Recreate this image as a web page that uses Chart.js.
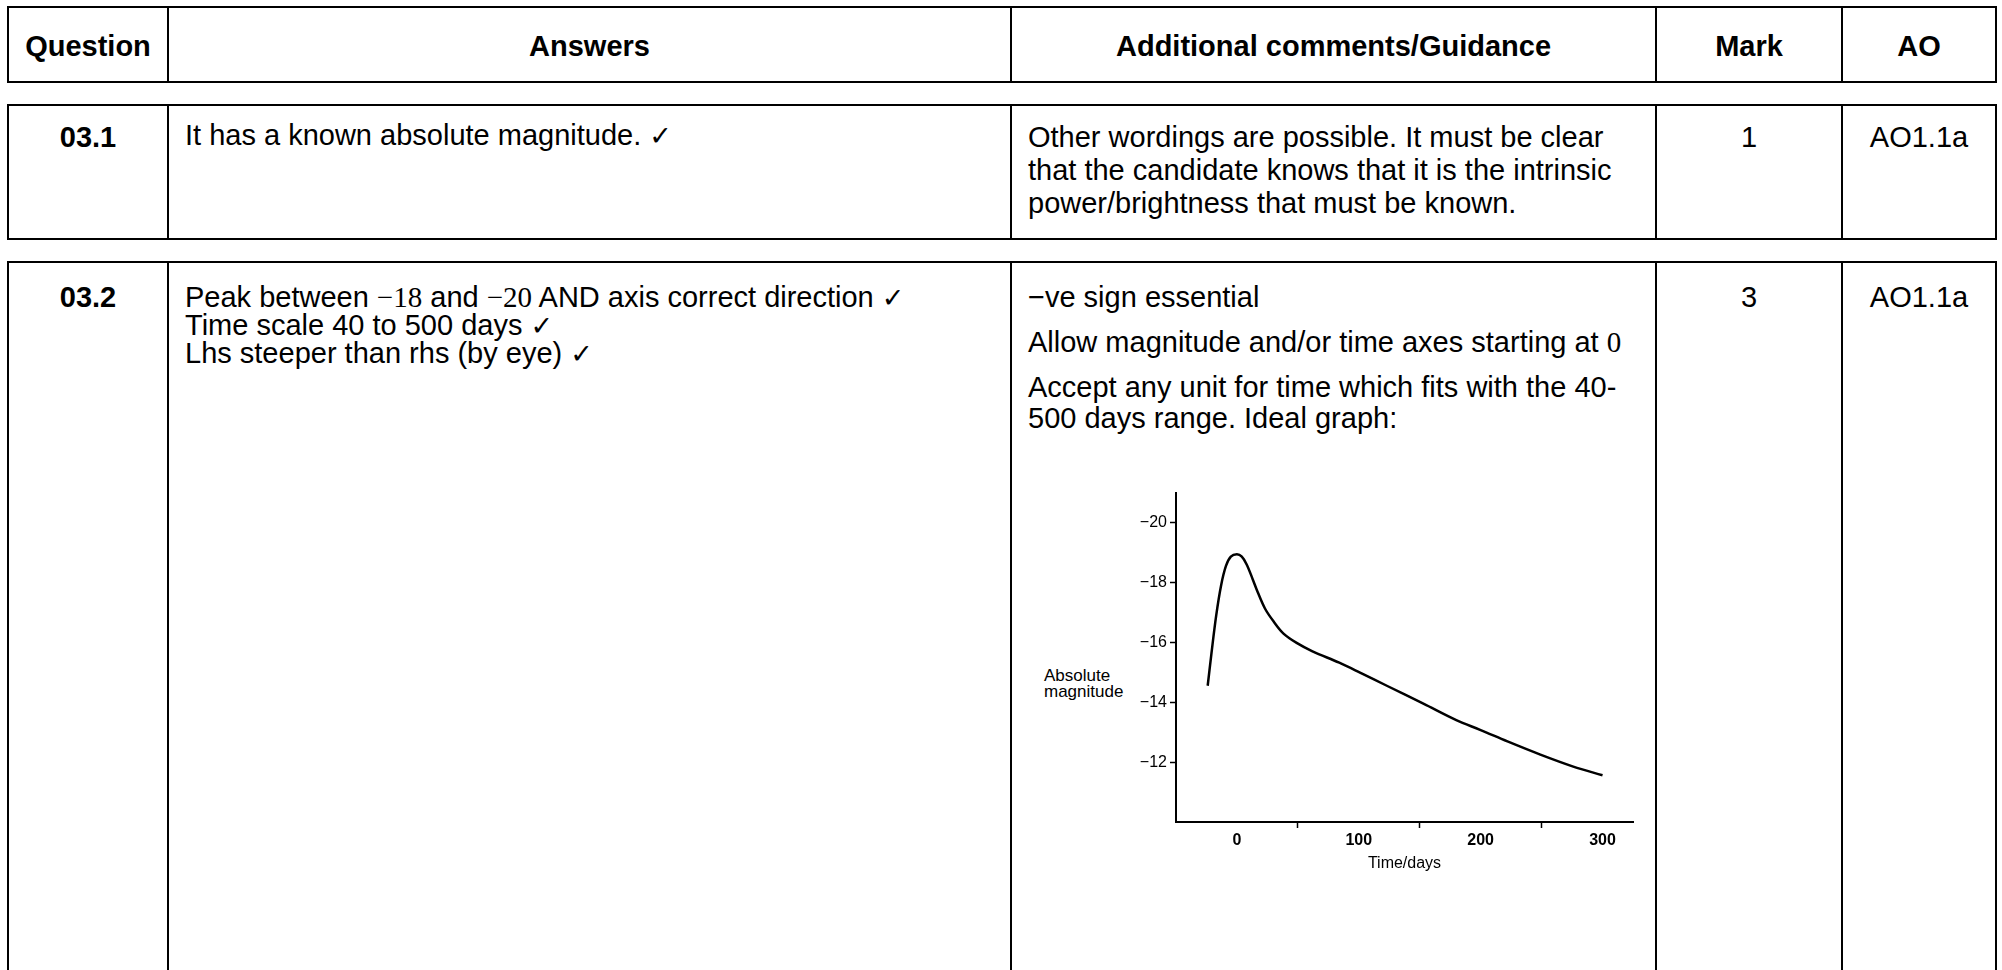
<!DOCTYPE html>
<html>
<head>
<meta charset="utf-8">
<script src="https://cdn.jsdelivr.net/npm/chart.js@4.4.0/dist/chart.umd.min.js"></script>
<style>
	html, body {
		margin: 0;
		padding: 0;
		background: #fff;
	}
	body {
		width: 2002px;
		height: 970px;
		overflow: hidden;
		position: relative;
		font-family: "Liberation Sans", Arial, sans-serif;
		font-size: 29px;
		color: #000;
	}
	.row {
		position: absolute;
		left: 7px;
		width: 1990px;
		box-sizing: border-box;
		border: 2px solid #000;
		display: flex;
	}
	.cell {
		box-sizing: border-box;
		height: 100%;
		border-left: 2px solid #000;
	}
	.cell:first-child { border-left: none; }
	.c1 { width: 158px; }
	.c2 { width: 843px; }
	.c3 { width: 645px; }
	.c4 { width: 186px; }
	.c5 { width: 154px; }
	.head .cell {
		display: flex;
		align-items: center;
		justify-content: center;
		font-weight: bold;
		padding-top: 4px;
	}
	.body .cell { padding-top: 15px; line-height: 33px; }
	.ctr { text-align: center; }
	.bold { font-weight: bold; }
	.txt { padding-left: 16px; white-space: nowrap; }
	.ans { line-height: 28px !important; }
	.guide p { margin: 0 0 14px 0; line-height: 31px; }
	.m { font-family: "Liberation Serif", "Times New Roman", serif; }
	.tick { font-family: "DejaVu Sans", sans-serif; font-size: 27px; line-height: 0; }
	.canvas-container {
		position: absolute;
		left: 1030px;
		top: 480px;
		width: 620px;
		height: 420px;
	}
	.ylabel {
		position: absolute;
		left: 1044px;
		top: 668px;
		font-size: 17px;
		line-height: 16px;
	}
</style>
</head>
<body>

<div class="row head" style="top:6px;height:77px;">
	<div class="cell c1">Question</div>
	<div class="cell c2">Answers</div>
	<div class="cell c3">Additional comments/Guidance</div>
	<div class="cell c4">Mark</div>
	<div class="cell c5">AO</div>
</div>

<div class="row body" style="top:104px;height:136px;">
	<div class="cell c1 ctr bold">03.1</div>
	<div class="cell c2 txt" style="padding-top:13px;">It has a known absolute magnitude. <span class="tick">✓</span></div>
	<div class="cell c3 txt">Other wordings are possible. It must be clear<br>that the candidate knows that it is the intrinsic<br>power/brightness that must be known.</div>
	<div class="cell c4 ctr">1</div>
	<div class="cell c5 ctr">AO1.1a</div>
</div>

<div class="row body" style="top:261px;height:800px;">
	<div class="cell c1 ctr bold" style="padding-top:18px;">03.2</div>
	<div class="cell c2 txt ans" style="padding-top:20px;">Peak between <span class="m">−18</span> and <span class="m">−20</span> AND axis correct direction <span class="tick">✓</span><br>Time scale 40 to 500 days <span class="tick">✓</span><br>Lhs steeper than rhs (by eye) <span class="tick">✓</span></div>
	<div class="cell c3 txt guide" style="padding-top:19px;">
		<p>−ve sign essential</p>
		<p>Allow magnitude and/or time axes starting at <span class="m">0</span></p>
		<p>Accept any unit for time which fits with the 40-<br>500 days range. Ideal graph:</p>
	</div>
	<div class="cell c4 ctr" style="padding-top:18px;">3</div>
	<div class="cell c5 ctr" style="padding-top:18px;">AO1.1a</div>
</div>

<div class="ylabel">Absolute<br>magnitude</div>
<div class="canvas-container">
	<canvas id="canvas" width="620" height="420"></canvas>
</div>

<script>
// values
const days = [-24, -21, -17, -13, -9, -5, 0, 4, 8, 13, 17, 23, 30, 38, 49, 62, 84, 101, 123, 153, 180, 200, 222, 249, 276, 300];
const magnitude = [-14.55, -15.6, -16.9, -17.9, -18.55, -18.86, -18.94, -18.86, -18.6, -18.1, -17.68, -17.13, -16.7, -16.3, -15.98, -15.7, -15.32, -14.99, -14.55, -13.95, -13.4, -13.07, -12.69, -12.25, -11.85, -11.56];
const yTicks = [-20, -18, -16, -14, -12];
const xTicks = [0, 50, 100, 150, 200, 250, 300];

const points = days.map((d, i) => ({ x: d, y: magnitude[i] }));

const ctx = document.getElementById("canvas").getContext("2d");
new Chart(ctx, {
	type: "line",
	data: {
		datasets: [
			{
				data: points,
				borderColor: "#000",
				borderWidth: 2.5,
				pointRadius: 0,
				fill: false,
				tension: 0.35,
			},
		],
	},
	options: {
		responsive: false,
		animation: false,
		devicePixelRatio: 1,
		layout: { padding: { top: 9, right: 17, left: 0, bottom: 0 } },
		plugins: {
			legend: { display: false },
			tooltip: { enabled: false },
		},
		scales: {
			x: {
				type: "linear",
				min: -50,
				max: 325,
				afterBuildTicks: (axis) => {
					axis.ticks = xTicks.map((v) => ({ value: v }));
				},
				afterFit: (axis) => {
					axis.height = 78;
				},
				border: { color: "#000", width: 2 },
				grid: {
					drawOnChartArea: false,
					tickLength: 6,
					tickWidth: 1.5,
					tickColor: (c) => (c.tick && c.tick.value % 100 === 0 ? "rgba(0,0,0,0)" : "#000"),
				},
				ticks: {
					padding: 3,
					maxRotation: 0,
					autoSkip: false,
					color: "#000",
					font: { family: "Liberation Sans", size: 16, weight: "bold" },
					callback: (v) => (v % 100 === 0 ? String(v) : ""),
				},
				title: {
					display: true,
					text: "Time/days",
					color: "#000",
					font: { family: "Liberation Sans", size: 16 },
					padding: { top: 0, bottom: 27 },
				},
			},
			y: {
				type: "linear",
				reverse: true,
				min: -21,
				max: -10,
				afterBuildTicks: (axis) => {
					axis.ticks = yTicks.map((v) => ({ value: v }));
				},
				afterFit: (axis) => {
					axis.width = 146;
				},
				border: { color: "#000", width: 2 },
				grid: {
					drawOnChartArea: false,
					tickLength: 6,
					tickWidth: 1.5,
					tickColor: "#000",
				},
				ticks: {
					padding: 3,
					autoSkip: false,
					color: "#000",
					font: { family: "Liberation Sans", size: 16 },
					callback: (v) => "−" + Math.abs(v),
				},
			},
		},
	},
});
</script>
</body>
</html>
